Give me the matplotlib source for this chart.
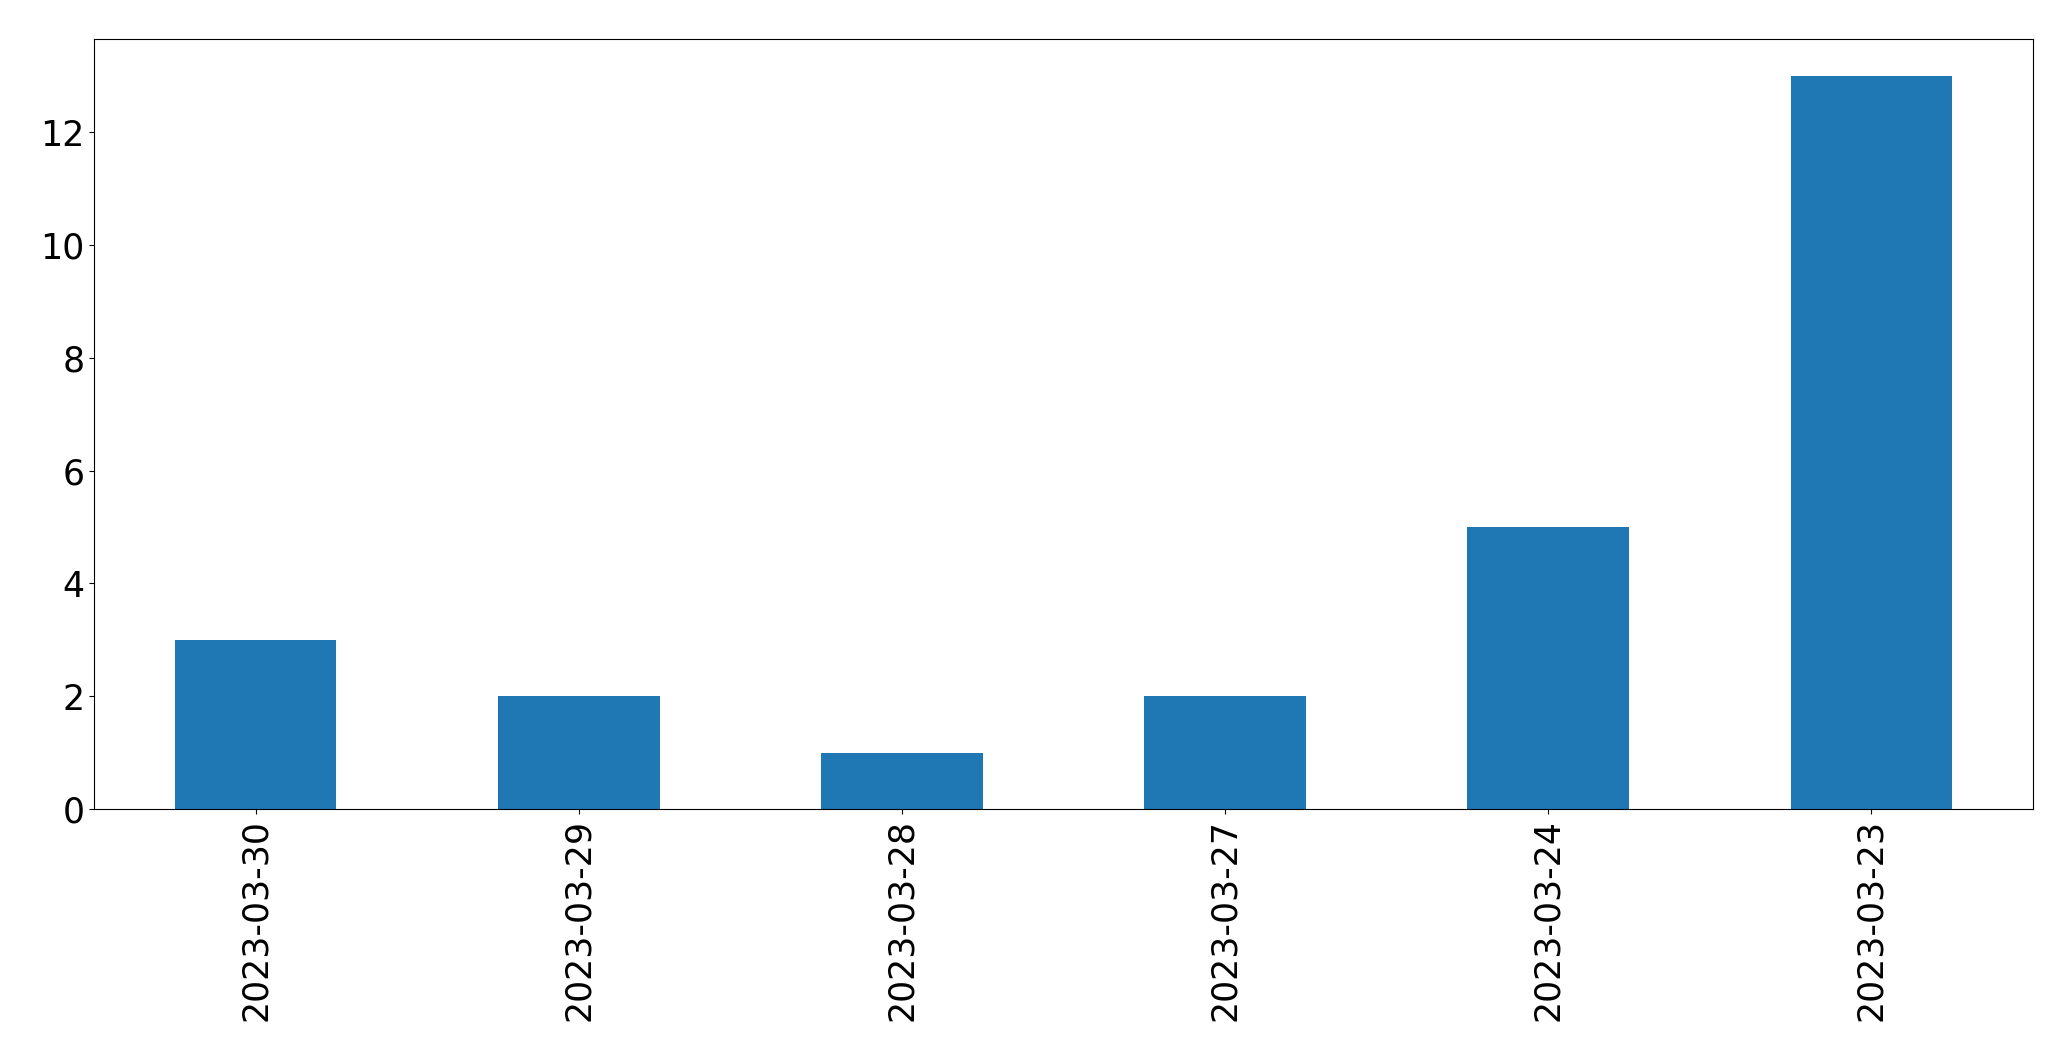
import matplotlib
matplotlib.use('Agg')
import matplotlib.pyplot as plt
import numpy as np

# ---- Data ----
dates = ['2023-03-30', '2023-03-29', '2023-03-28', '2023-03-27', '2023-03-24', '2023-03-23']
counts = [3, 2, 1, 2, 5, 13]

# ---- Plotting ----
fig = plt.figure(figsize=(20.71, 10.61), dpi=100)
ax = fig.add_axes([94 / 2071, 1 - 809 / 1061, (2033 - 94) / 2071, (809 - 39) / 1061])
x = np.arange(len(dates))
ax.bar(x, counts, width=0.5, color='#1f77b4')
ax.set_xlim(-0.5, len(dates) - 0.5)
ax.margins(y=0.05)
ax.set_xticks(x)
ax.set_xticklabels(dates, rotation=90)
ax.tick_params(labelsize=25)
fig.savefig('out.png', dpi=100)
